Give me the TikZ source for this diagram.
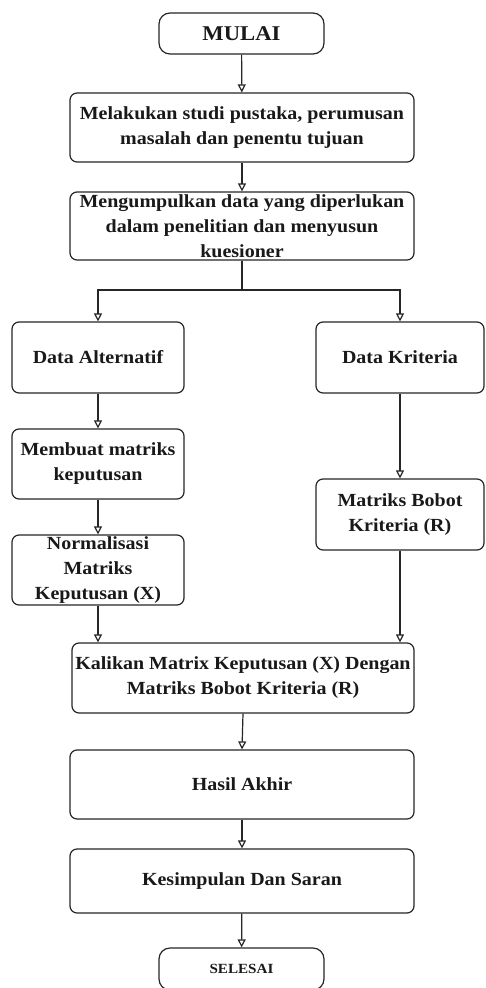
\documentclass[tikz,border=0pt]{standalone}
\usepackage{fontspec}
\setmainfont{Liberation Serif}[FakeStretch=1.08]
\usetikzlibrary{arrows.meta}
\tikzset{
  boxstyle/.style={draw=black!85, line width=1.2pt, rounded corners=7pt, align=center,
    inner sep=0pt, text=black!90, font=\fontsize{18.5}{25}\selectfont\bfseries},
  termstyle/.style={boxstyle, rounded corners=11pt},
  conn/.style={draw=black!85, line width=1.2pt, -{Triangle[open, length=8pt, width=8pt]}},
  plainline/.style={draw=black!85, line width=1.2pt}
}
\begin{document}
\begin{tikzpicture}[x=1pt,y=-1pt]
\useasboundingbox[fill=white] (0,0) rectangle (485,988);
\node[termstyle, minimum width=165pt, minimum height=41pt, font=\fontsize{21}{25}\selectfont\bfseries] (mulai) at (241.5,33.5) {MULAI};
\node[boxstyle, minimum width=344pt, minimum height=69pt] (b1) at (242,127.5) {Melakukan studi pustaka, perumusan\\masalah dan penentu tujuan};
\node[boxstyle, minimum width=344pt, minimum height=68pt] (b2) at (242,226) {Mengumpulkan data yang diperlukan\\dalam penelitian dan menyusun\\kuesioner};
\coordinate (split) at (242,290);
\node[boxstyle, minimum width=172pt, minimum height=71pt] (alt) at (98,357.5) {Data Alternatif};
\node[boxstyle, minimum width=168pt, minimum height=71pt] (krit) at (400,357.5) {Data Kriteria};
\node[boxstyle, minimum width=172pt, minimum height=70pt] (mem) at (98,464) {Membuat matriks\\keputusan};
\node[boxstyle, minimum width=172pt, minimum height=70pt] (norm) at (98,570) {Normalisasi\\Matriks\\Keputusan (X)};
\node[boxstyle, minimum width=168pt, minimum height=71pt] (mat) at (400,514.5) {Matriks Bobot\\Kriteria (R)};
\node[boxstyle, minimum width=342pt, minimum height=70pt] (kal) at (243,678) {Kalikan Matrix Keputusan (X) Dengan\\Matriks Bobot Kriteria (R)};
\node[boxstyle, minimum width=344pt, minimum height=69pt] (hasil) at (242,784.5) {Hasil Akhir};
\node[boxstyle, minimum width=344pt, minimum height=64pt] (kes) at (242,881) {Kesimpulan Dan Saran};
\node[termstyle, minimum width=165pt, minimum height=42pt, font=\fontsize{14}{16}\selectfont\bfseries] (sel) at (241.5,969) {SELESAI};

\draw[conn] (mulai) -- (b1);
\draw[conn] (b1) -- (b2);
\draw[plainline] (b2.south) -- (split);
\draw[conn] (split) -| (alt.north);
\draw[conn] (split) -| (krit.north);
\draw[conn] (alt) -- (mem);
\draw[conn] (mem) -- (norm);
\draw[conn] (krit) -- (mat);
\draw[conn] (norm.south) -- (norm.south |- kal.north);
\draw[conn] (mat.south) -- (mat.south |- kal.north);
\draw[conn] (kal.south) -- (hasil.north);
\draw[conn] (hasil) -- (kes);
\draw[conn] (kes) -- (sel);
\end{tikzpicture}
\end{document}
